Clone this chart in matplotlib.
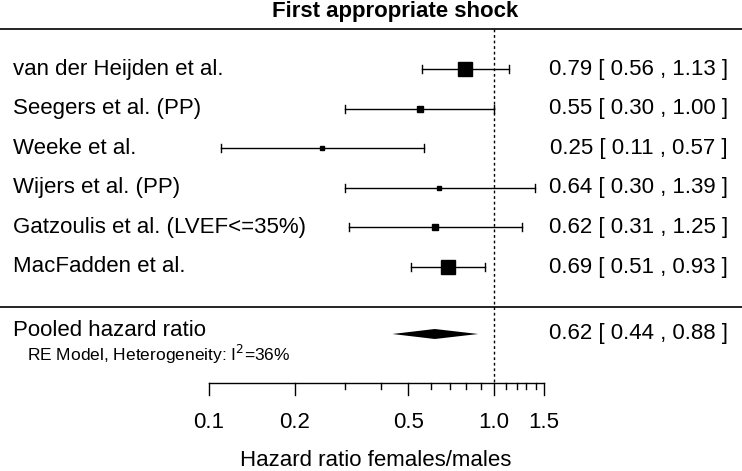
import numpy as np
import matplotlib
matplotlib.use('Agg')
import matplotlib.pyplot as plt
import matplotlib.transforms as mtransforms

plt.rcParams['font.family'] = ['Liberation Sans', 'DejaVu Sans']

# ----------------------------- DATA ------------------------------
studies = ['van der Heijden et al.', 'Seegers et al. (PP)', 'Weeke et al.',
           'Wijers et al. (PP)', 'Gatzoulis et al. (LVEF<=35%)', 'MacFadden et al.']
hr = [0.79, 0.55, 0.25, 0.64, 0.62, 0.69]
lo = [0.56, 0.30, 0.11, 0.30, 0.31, 0.51]
hi = [1.13, 1.00, 0.57, 1.39, 1.25, 0.93]
weight = [10.0, 5.0, 3.0, 3.5, 4.0, 10.5]   # square size (pt)

pooled = 0.62
pooled_lo = 0.44
pooled_hi = 0.88
i2 = 36

major_ticks = [0.1, 0.2, 0.5, 1.0, 1.5]
minor_ticks = [0.3, 0.4, 0.6, 0.7, 0.8, 0.9, 1.1, 1.2, 1.3, 1.4]

# ----------------------------- LAYOUT ------------------------------
W, H = 742, 471
fig = plt.figure(figsize=(W / 100, H / 100), dpi=100)
ax = fig.add_axes([0, 0, 1, 1])
ax.set_xscale('log')
ppd = 285.0  # pixels per decade
x0 = 209     # pixel of 0.1
ax.set_xlim(10 ** (-1 - x0 / ppd), 10 ** (-1 + (W - x0) / ppd))
ax.set_ylim(H, 0)
ax.axis('off')

tr = mtransforms.blended_transform_factory(ax.transAxes, ax.transData)

row_y = [69 + 39.6 * i for i in range(len(studies))]
top_y = 29
sep_y = 307
pool_y = 334
axis_y = 383
fs = 16

ax.text(395 / W, 12, 'First appropriate shock', transform=tr, ha='center', va='center',
        fontsize=fs, fontweight='bold')
ax.plot([0, 1], [top_y, top_y], transform=tr, color='black', lw=1.2)
ax.plot([0, 1], [sep_y, sep_y], transform=tr, color='black', lw=1.2)
ax.plot([1, 1], [top_y, axis_y], color='black', lw=1, linestyle=(0, (2, 2)))

for y, name, m, l, h, w in zip(row_y, studies, hr, lo, hi, weight):
    ax.plot([l, h], [y, y], color='black', lw=1)
    ax.plot([l, l], [y - 4, y + 4], color='black', lw=1)
    ax.plot([h, h], [y - 4, y + 4], color='black', lw=1)
    ax.plot([m], [y], marker='s', color='black', markersize=w, linestyle='none')
    ax.text(13 / W, y, name, transform=tr, ha='left', va='center', fontsize=fs)
    ax.text(728 / W, y, '%.2f [ %.2f , %.2f ]' % (m, l, h), transform=tr,
            ha='right', va='center', fontsize=fs)

# pooled diamond
ax.fill([pooled_lo, pooled, pooled_hi, pooled], [pool_y, pool_y - 5, pool_y, pool_y + 5],
        color='black', lw=0)
ax.text(13 / W, 331, 'Pooled hazard ratio', transform=tr, ha='left', va='center', fontsize=fs)
ax.text(27 / W, 354, 'RE Model, Heterogeneity: I$^2$=%d%%' % i2, transform=tr,
        ha='left', va='center', fontsize=12.5)
ax.text(728 / W, 333, '%.2f [ %.2f , %.2f ]' % (pooled, pooled_lo, pooled_hi), transform=tr,
        ha='right', va='center', fontsize=fs)

# x axis
ax.plot([major_ticks[0], major_ticks[-1]], [axis_y, axis_y], color='black', lw=1)
for t in major_ticks:
    ax.plot([t, t], [axis_y, axis_y + 12], color='black', lw=1)
    ax.text(t, 422, '%.1f' % t, ha='center', va='center', fontsize=fs)
for t in minor_ticks:
    ax.plot([t, t], [axis_y, axis_y + 6], color='black', lw=1)
ax.text(376 / W, 461, 'Hazard ratio females/males', transform=tr, ha='center', va='center', fontsize=fs)

fig.savefig('out.png', dpi=100)
